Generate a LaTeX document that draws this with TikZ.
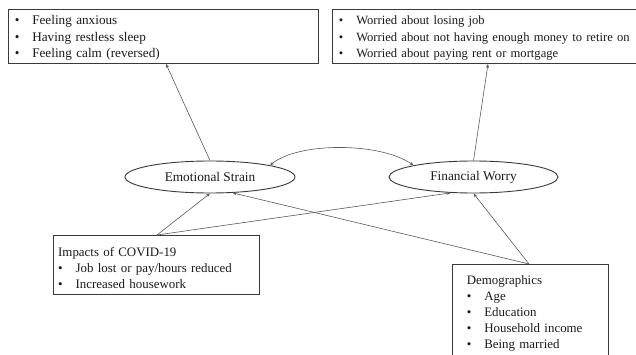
\documentclass[tikz,border=0pt]{standalone}
\usepackage{fontspec}
\setmainfont{Liberation Serif}
\usetikzlibrary{shapes.geometric,arrows.meta}
\definecolor{boxline}{HTML}{3A3A3A}
\definecolor{arrline}{HTML}{5A5A5A}
\definecolor{txt}{HTML}{1A1A1A}
\newcommand{\bul}{\makebox[17.5pt][l]{\textbullet}}
\tikzset{
  box/.style={draw=boxline, line width=0.9pt, rectangle, inner sep=0pt, anchor=north west},
  latent/.style={draw=boxline, line width=0.9pt, ellipse, inner sep=0pt, minimum width=170pt, minimum height=32pt, text=txt, font=\fontsize{13.3}{16}\selectfont},
  txtblock/.style={anchor=base west, inner sep=0pt, text=txt, align=left, text width=400pt},
  arr/.style={draw=arrline, line width=0.6pt, -{Stealth[length=4pt,width=3pt]}},
  dblarr/.style={draw=arrline, line width=0.6pt, {Stealth[length=4pt,width=3pt]}-{Stealth[length=4pt,width=3pt]}}
}
\begin{document}
\begin{tikzpicture}[x=1pt,y=-1pt]
\useasboundingbox (0,0) rectangle (636,355);
\fill[white] (0,0) rectangle (636,355);
% boxes
\node[box, minimum width=310pt, minimum height=54pt] (b1) at (8,9) {};
\node[box, minimum width=312pt, minimum height=54pt] (b2) at (332,9) {};
\node[box, minimum width=206pt, minimum height=59pt] (cov) at (53,235) {};
\node[box, minimum width=156pt, minimum height=95pt] (demo) at (452,264) {};
% texts
\node[txtblock, font=\fontsize{13.2}{16.5}\selectfont] (b1t) at (14.6,25)
  {\bul Feeling anxious\\ \bul Having restless sleep\\ \bul Feeling calm (reversed)};
\node[txtblock, font=\fontsize{12.6}{16.5}\selectfont] (b2t) at (338.6,25)
  {\bul Worried about losing job\\ \bul Worried about not having enough money to retire on\\ \bul Worried about paying rent or mortgage};
\node[txtblock, font=\fontsize{12.9}{16}\selectfont] (covt) at (58,256)
  {Impacts of COVID-19\\ \bul Job lost or pay/hours reduced\\ \bul Increased housework};
\node[txtblock, font=\fontsize{12.9}{16}\selectfont] (demot) at (466.6,284)
  {Demographics\\ \bul Age\\ \bul Education\\ \bul Household income\\ \bul Being married};
% latent variables
\node[latent] (es) at (210,177) {Emotional Strain};
\node[latent, minimum width=169pt] (fw) at (473.5,177) {Financial Worry};
% connectors
\draw[arr] (es.north) -- ([xshift=158pt]b1.south west);
\draw[arr] (fw.north) -- ([xshift=156pt]b2.south west);
\draw[dblarr] (es.11) .. controls (298,142) and (380,142) .. (fw.169);
\draw[arr] ([xshift=104pt]cov.north west) -- (es.south);
\draw[arr] ([xshift=104pt]cov.north west) -- (fw.215);
\draw[arr] ([xshift=77pt]demo.north west) -- (fw.south);
\draw[arr] ([xshift=77pt]demo.north west) -- (es.-35);
\end{tikzpicture}
\end{document}
